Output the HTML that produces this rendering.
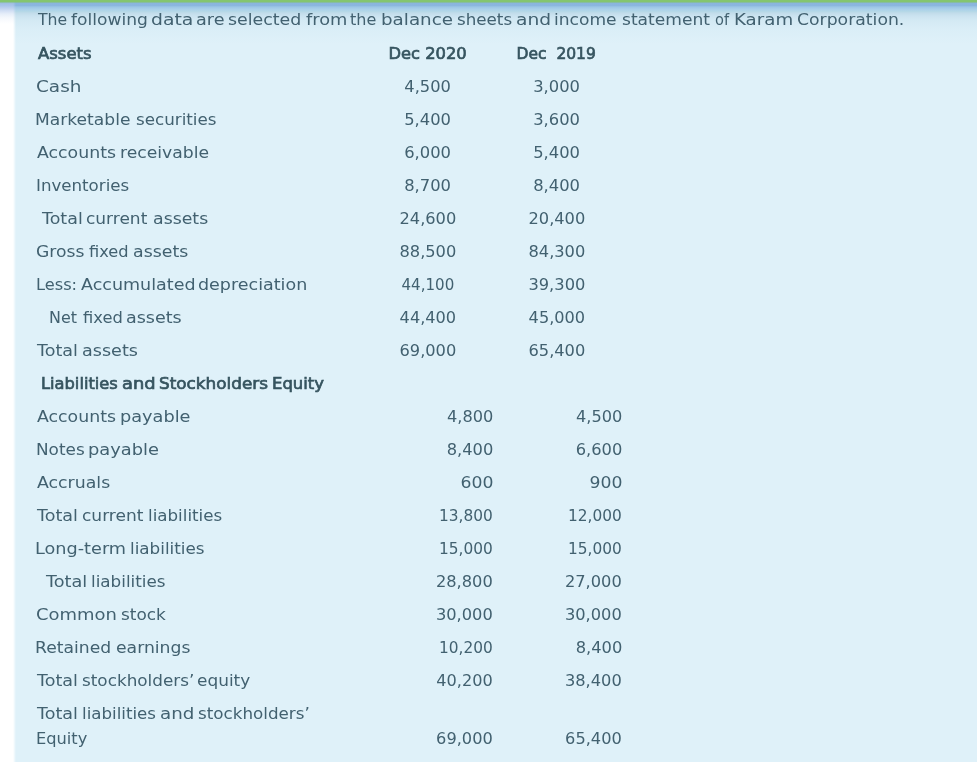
<!DOCTYPE html>
<html lang="en"><head><meta charset="utf-8"><title>Karam Corporation balance sheet</title>
<style>
html,body{margin:0;padding:0;}
body{width:977px;height:762px;overflow:hidden;background:#fff;font-family:"DejaVu Sans","Liberation Sans",sans-serif;color:#426170;}
.page{position:absolute;left:0;top:0;width:977px;height:762px;overflow:hidden;background:#dff1f9;}
.topbar{position:absolute;left:0;top:0;width:977px;height:44px;background:linear-gradient(to bottom,#84c56f 0px,#84c56f 1.6px,#86bba8 2.6px,#8ab5dd 3.4px,#8bb6df 5.5px,#9cc6e5 7px,#a8cfea 9px,#b5d8e7 11.5px,#c1dcea 13px,#cbe3f0 16px,#d4eaf4 21px,#daeef7 29px,#dff1f9 44px);}
.strip{position:absolute;left:0;top:0;width:16px;height:762px;background:linear-gradient(to bottom,#84c56f 0px,#84c56f 1.6px,#8fbfb0 2.6px,#a3bfe6 3.6px,#a9c4ea 5.5px,#bcd0ee 8px,#d3e0f4 11px,#e6eef9 14px,#f5f8fc 18px,#ffffff 24px);-webkit-mask-image:linear-gradient(to right,#000 0,#000 13px,rgba(0,0,0,.5) 14.5px,transparent 16px);mask-image:linear-gradient(to right,#000 0,#000 13px,rgba(0,0,0,.5) 14.5px,transparent 16px);}
p.intro{position:absolute;left:37px;top:7.2px;width:900px;height:26px;margin:0;font-size:16.5px;line-height:26px;white-space:nowrap;}
table{position:absolute;left:37px;top:37.25px;border-collapse:collapse;table-layout:fixed;width:585px;font-size:16.5px;line-height:24px;}
td{padding:0;height:33px;vertical-align:middle;white-space:nowrap;}
td.l{width:327px;text-align:left;}
td.n{width:129px;}
td.c{text-align:center;}
td.r{text-align:right;}
tr.b td{color:#36545f;-webkit-text-stroke:0.7px #36545f;}
tr.last td{height:53px;vertical-align:top;padding-top:4px;line-height:25px;}
tr.last td.n{height:27.5px;padding-top:29.5px;line-height:24px;}
span{display:inline-block;}
.w{width:0;position:relative;white-space:nowrap;transform-origin:0 50%;}
td.c span{transform-origin:50% 50%;position:relative;left:-0.8px;}
td.r span{transform-origin:100% 50%;}
</style></head><body><div class="page"><div class="topbar"></div><div class="strip"></div>
<p class="intro"><span class="w" id="i0" style="left:0.66px;transform:scaleX(0.9501);">The</span> <span class="w" id="i1" style="left:28.47px;transform:scaleX(1.0354);">following</span> <span class="w" id="i2" style="left:103.44px;transform:scaleX(1.139);">data</span> <span class="w" id="i3" style="left:143.44px;transform:scaleX(1.0677);">are</span> <span class="w" id="i4" style="left:170.37px;transform:scaleX(1.053);">selected</span> <span class="w" id="i5" style="left:242.28px;transform:scaleX(1.0781);">from</span> <span class="w" id="i6" style="left:281.78px;transform:scaleX(0.9717);">the</span> <span class="w" id="i7" style="left:306.88px;transform:scaleX(1.1086);">balance</span> <span class="w" id="i8" style="left:377.99px;transform:scaleX(1.0125);">sheets</span> <span class="w" id="i9" style="left:431.77px;transform:scaleX(1.1297);">and</span> <span class="w" id="i10" style="left:464.34px;transform:scaleX(1.0348);">income</span> <span class="w" id="i11" style="left:527.48px;transform:scaleX(1.0362);">statement</span> <span class="w" id="i12" style="left:615.29px;transform:scaleX(0.8852);">of</span> <span class="w" id="i13" style="left:628.97px;transform:scaleX(1.1035);">Karam</span> <span class="w" id="i14" style="left:686.0px;transform:scaleX(1.045);">Corporation.</span></p>
<table>
<tr class="b"><td class="l"><span class="w" id="l0_0" style="left:0.59px;transform:scaleX(0.9964);">Assets</span></td><td class="n c"><span id="n0_0" style="transform:scaleX(0.9888);">Dec 2020</span></td><td class="n c"><span id="n0_1" style="transform:scaleX(0.9391);">Dec  2019</span></td></tr>
<tr><td class="l"><span class="w" id="l1_0" style="left:-0.97px;transform:scaleX(1.1175);">Cash</span></td><td class="n c"><span id="n1_0" style="transform:scaleX(0.985);">4,500</span></td><td class="n c"><span id="n1_1" style="transform:scaleX(0.9906);">3,000</span></td></tr>
<tr><td class="l"><span class="w" id="l2_0" style="left:-1.81px;transform:scaleX(1.0365);">Marketable</span> <span class="w" id="l2_1" style="left:93.72px;transform:scaleX(1.0132);">securities</span></td><td class="n c"><span id="n2_0" style="transform:scaleX(0.9906);">5,400</span></td><td class="n c"><span id="n2_1" style="transform:scaleX(0.9906);">3,600</span></td></tr>
<tr><td class="l"><span class="w" id="l3_0" style="left:-0.02px;transform:scaleX(1.0499);">Accounts</span> <span class="w" id="l3_1" style="left:77.74px;transform:scaleX(1.043);">receivable</span></td><td class="n c"><span id="n3_0" style="transform:scaleX(0.9909);">6,000</span></td><td class="n c"><span id="n3_1" style="transform:scaleX(0.9906);">5,400</span></td></tr>
<tr><td class="l"><span class="w" id="l4_0" style="left:-1.13px;transform:scaleX(1.0087);">Inventories</span></td><td class="n c"><span id="n4_0" style="transform:scaleX(0.9909);">8,700</span></td><td class="n c"><span id="n4_1" style="transform:scaleX(0.9909);">8,400</span></td></tr>
<tr><td class="l"><span class="w" id="l5_0" style="left:4.58px;transform:scaleX(1.057);">Total</span> <span class="w" id="l5_1" style="left:44.05px;transform:scaleX(1.03);">current</span> <span class="w" id="l5_2" style="left:105.38px;transform:scaleX(1.0512);">assets</span></td><td class="n c"><span id="n5_0" style="transform:scaleX(0.9831);">24,600</span></td><td class="n c"><span id="n5_1" style="transform:scaleX(0.9831);">20,400</span></td></tr>
<tr><td class="l"><span class="w" id="l6_0" style="left:-1.3px;transform:scaleX(1.0419);">Gross</span> <span class="w" id="l6_1" style="left:47.08px;transform:scaleX(0.9847);">fixed</span> <span class="w" id="l6_2" style="left:85.19px;transform:scaleX(1.0519);">assets</span></td><td class="n c"><span id="n6_0" style="transform:scaleX(0.9831);">88,500</span></td><td class="n c"><span id="n6_1" style="transform:scaleX(0.9831);">84,300</span></td></tr>
<tr><td class="l"><span class="w" id="l7_0" style="left:-0.92px;transform:scaleX(0.9822);">Less:</span> <span class="w" id="l7_1" style="left:38.45px;transform:scaleX(1.0614);">Accumulated</span> <span class="w" id="l7_2" style="left:150.58px;transform:scaleX(1.0605);">depreciation</span></td><td class="n c"><span id="n7_0" style="transform:scaleX(0.9134);">44,100</span></td><td class="n c"><span id="n7_1" style="transform:scaleX(0.9858);">39,300</span></td></tr>
<tr><td class="l"><span class="w" id="l8_0" style="left:11.75px;transform:scaleX(0.965);">Net</span> <span class="w" id="l8_1" style="left:40.46px;transform:scaleX(0.9884);">fixed</span> <span class="w" id="l8_2" style="left:78.54px;transform:scaleX(1.0611);">assets</span></td><td class="n c"><span id="n8_0" style="transform:scaleX(0.9786);">44,400</span></td><td class="n c"><span id="n8_1" style="transform:scaleX(0.9786);">45,000</span></td></tr>
<tr><td class="l"><span class="w" id="l9_0" style="left:-0.33px;transform:scaleX(1.0628);">Total</span> <span class="w" id="l9_1" style="left:39.55px;transform:scaleX(1.0656);">assets</span></td><td class="n c"><span id="n9_0" style="transform:scaleX(0.9831);">69,000</span></td><td class="n c"><span id="n9_1" style="transform:scaleX(0.9831);">65,400</span></td></tr>
<tr class="b"><td class="l"><span class="w" id="l10_0" style="left:3.55px;transform:scaleX(0.9858);">Liabilities</span> <span class="w" id="l10_1" style="left:79.56px;transform:scaleX(1.0828);">and</span> <span class="w" id="l10_2" style="left:111.92px;transform:scaleX(1.0204);">Stockholders</span> <span class="w" id="l10_3" style="left:219.18px;transform:scaleX(0.9961);">Equity</span></td><td class="n"></td><td class="n"></td></tr>
<tr><td class="l"><span class="w" id="l11_0" style="left:-0.02px;transform:scaleX(1.0499);">Accounts</span> <span class="w" id="l11_1" style="left:77.92px;transform:scaleX(1.0739);">payable</span></td><td class="n r"><span id="n11_0" style="transform:scaleX(0.9795);">4,800</span></td><td class="n r"><span id="n11_1" style="transform:scaleX(0.9795);">4,500</span></td></tr>
<tr><td class="l"><span class="w" id="l12_0" style="left:-0.93px;transform:scaleX(1.0219);">Notes</span> <span class="w" id="l12_1" style="left:45.64px;transform:scaleX(1.0813);">payable</span></td><td class="n r"><span id="n12_0" style="transform:scaleX(0.985);">8,400</span></td><td class="n r"><span id="n12_1" style="transform:scaleX(0.985);">6,600</span></td></tr>
<tr><td class="l"><span class="w" id="l13_0" style="left:0.07px;transform:scaleX(1.0505);">Accruals</span></td><td class="n r"><span id="n13_0" style="transform:scaleX(1.0456);">600</span></td><td class="n r"><span id="n13_1" style="transform:scaleX(1.0456);">900</span></td></tr>
<tr><td class="l"><span class="w" id="l14_0" style="left:-0.33px;transform:scaleX(1.0628);">Total</span> <span class="w" id="l14_1" style="left:39.73px;transform:scaleX(1.0323);">current</span> <span class="w" id="l14_2" style="left:100.12px;transform:scaleX(1.0119);">liabilities</span></td><td class="n r"><span id="n14_0" style="transform:scaleX(0.9303);">13,800</span></td><td class="n r"><span id="n14_1" style="transform:scaleX(0.9303);">12,000</span></td></tr>
<tr><td class="l"><span class="w" id="l15_0" style="left:-1.7px;transform:scaleX(1.0705);">Long-term</span> <span class="w" id="l15_1" style="left:87.74px;transform:scaleX(1.0163);">liabilities</span></td><td class="n r"><span id="n15_0" style="transform:scaleX(0.9303);">15,000</span></td><td class="n r"><span id="n15_1" style="transform:scaleX(0.9303);">15,000</span></td></tr>
<tr><td class="l"><span class="w" id="l16_0" style="left:9.3px;transform:scaleX(1.0712);">Total</span> <span class="w" id="l16_1" style="left:48.74px;transform:scaleX(1.0163);">liabilities</span></td><td class="n r"><span id="n16_0" style="transform:scaleX(0.9831);">28,800</span></td><td class="n r"><span id="n16_1" style="transform:scaleX(0.9831);">27,000</span></td></tr>
<tr><td class="l"><span class="w" id="l17_0" style="left:-1.39px;transform:scaleX(1.0887);">Common</span> <span class="w" id="l17_1" style="left:78.28px;transform:scaleX(1.0248);">stock</span></td><td class="n r"><span id="n17_0" style="transform:scaleX(0.9831);">30,000</span></td><td class="n r"><span id="n17_1" style="transform:scaleX(0.9831);">30,000</span></td></tr>
<tr><td class="l"><span class="w" id="l18_0" style="left:-1.52px;transform:scaleX(1.0415);">Retained</span> <span class="w" id="l18_1" style="left:74.04px;transform:scaleX(1.0435);">earnings</span></td><td class="n r"><span id="n18_0" style="transform:scaleX(0.9303);">10,200</span></td><td class="n r"><span id="n18_1" style="transform:scaleX(0.985);">8,400</span></td></tr>
<tr><td class="l"><span class="w" id="l19_0" style="left:-0.33px;transform:scaleX(1.0628);">Total</span> <span class="w" id="l19_1" style="left:39.64px;transform:scaleX(1.0193);">stockholders’</span> <span class="w" id="l19_2" style="left:149.62px;transform:scaleX(1.0257);">equity</span></td><td class="n r"><span id="n19_0" style="transform:scaleX(0.9768);">40,200</span></td><td class="n r"><span id="n19_1" style="transform:scaleX(0.9831);">38,400</span></td></tr>
<tr class="last"><td class="l"><span class="w" id="l20_0" style="left:-0.33px;transform:scaleX(1.0628);">Total</span> <span class="w" id="l20_1" style="left:39.28px;transform:scaleX(1.0094);">liabilities</span> <span class="w" id="l20_2" style="left:112.07px;transform:scaleX(1.1065);">and</span> <span class="w" id="l20_3" style="left:145.32px;transform:scaleX(1.0148);">stockholders’</span><br><span class="w" id="l20_5" style="left:-0.98px;transform:scaleX(0.9842);">Equity</span></td><td class="n r"><span id="n20_0" style="transform:scaleX(0.9813);">69,000</span></td><td class="n r"><span id="n20_1" style="transform:scaleX(0.9813);">65,400</span></td></tr>
</table>
</div></body></html>
